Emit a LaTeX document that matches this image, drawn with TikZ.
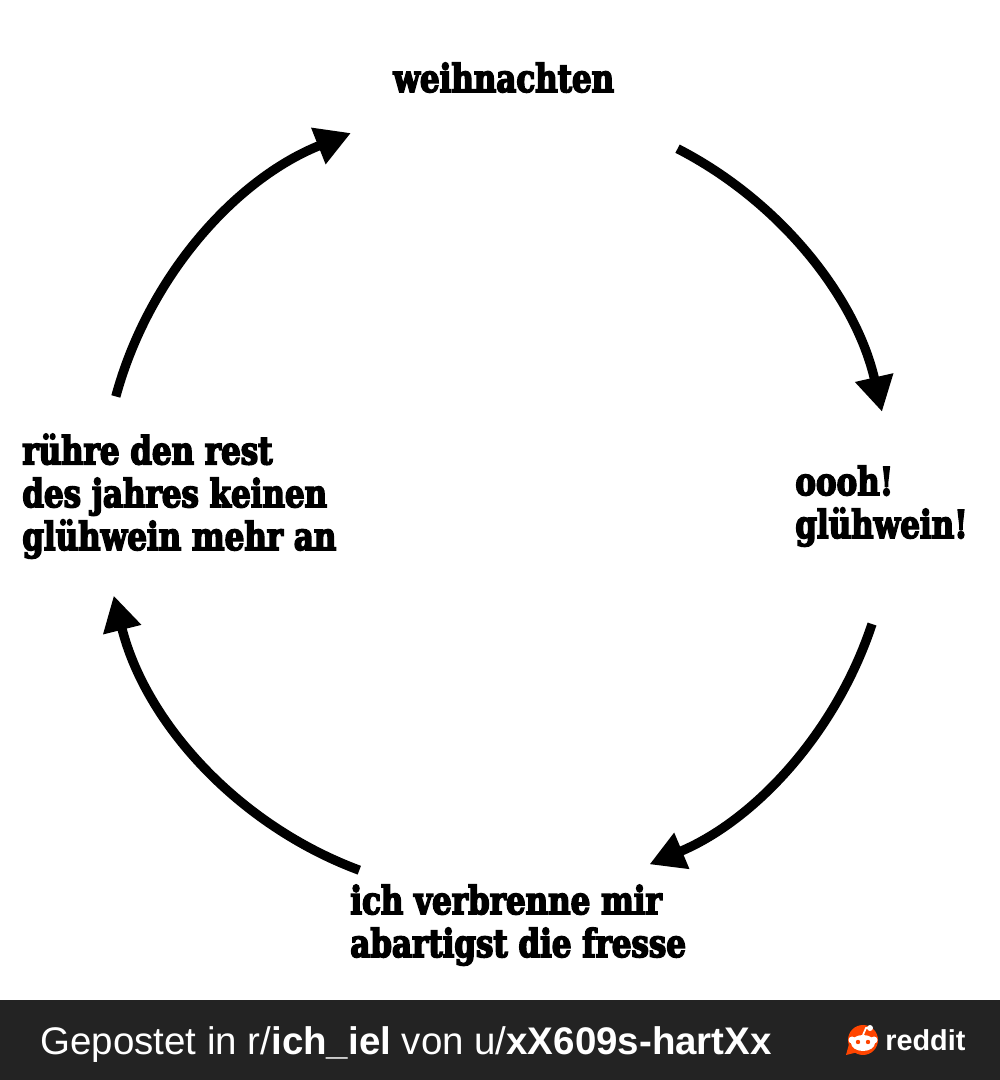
\documentclass[tikz,border=0pt]{standalone}
\usepackage{fontspec}
\setmainfont{DejaVu Serif}
\newfontfamily\memefont[FakeStretch=0.8, FakeBold=4]{DejaVu Serif}
\newfontfamily\barfont{Liberation Sans}
\usetikzlibrary{arrows.meta, calc}
\definecolor{barbg}{HTML}{232323}
\definecolor{snoo}{HTML}{FF4500}

\begin{document}
\begin{tikzpicture}[x=0.02cm, y=0.02cm,
  cyc/.style={line width=5.3pt, -{Triangle[length=20pt, width=21pt]}},
  meme/.style={inner sep=0pt, align=left, font=\memefont\bfseries\fontsize{22}{24.4}\selectfont}]
\useasboundingbox (0,0) rectangle (1000,1080);
\fill[white] (0,0) rectangle (1000,1080);
\fill[barbg] (0,0) rectangle (1000,80);

\node[meme, anchor=base west] (xmas) at (393,988) {weihnachten};
\node[meme, anchor=base west] (ooh) at (795,542) {oooh!\\glühwein!};
\node[meme, anchor=base west] (burn) at (350,123) {ich verbrenne mir\\abartigst die fresse};
\node[meme, anchor=base west] (never) at (22,530) {rühre den rest\\des jahres keinen\\glühwein mehr an};

\coordinate (ctr) at (497,580);
\foreach \a/\b in {62.8/12.9, -18.3/-67.3, 249.6/194, 164.8/111.7}
  \draw[cyc] (ctr) ++(\a:395) arc[start angle=\a, end angle=\b, radius=395];

\node[anchor=base west, text=white, inner sep=0pt, font=\barfont\fontsize{21.9}{24}\selectfont] (credit) at (40,26)
  {Gepostet in r/\textbf{ich\_iel} von u/\textbf{xX609s-hartXx}};
\coordinate (logo) at (863,40);
\fill[snoo] (logo) circle[radius=15];
\fill[snoo] (849,36) -- (846,25) -- (858,28) -- cycle;
\fill[white] (logo) ++(-11,0) circle[radius=3.5] ++(22,0) circle[radius=3.5];
\fill[white] (logo) ++(0,-3) ellipse[x radius=12, y radius=8];
\fill[snoo] (logo) ++(-5,-2) circle[radius=2.2] ++(10,0) circle[radius=2.2];
\draw[white, line width=1pt] (logo) ++(0,5) -- ++(3,7) -- ++(5,0);
\fill[white] (logo) ++(7,12) circle[radius=3];
\node[anchor=base west, text=white, inner sep=0pt, font=\barfont\bfseries\fontsize{16.4}{18}\selectfont] (brand) at (885,30) {reddit};
\end{tikzpicture}
\end{document}
